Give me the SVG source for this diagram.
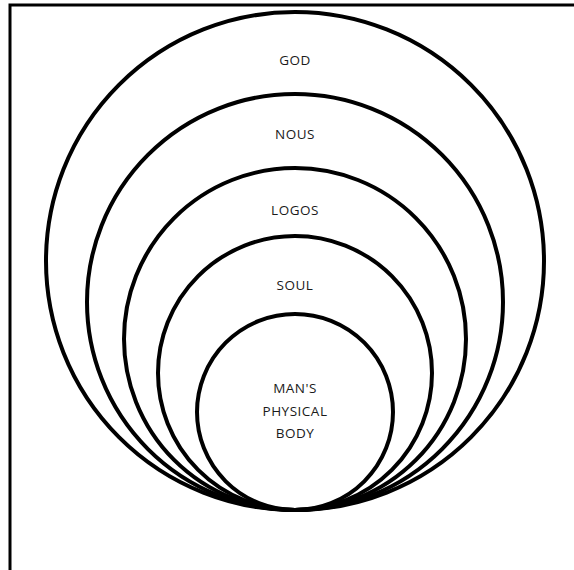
<svg xmlns="http://www.w3.org/2000/svg" width="574" height="570" viewBox="0 0 574 570">
<style>
.ring{fill:none;stroke:#000;stroke-width:4}
.lbl{font-family:"Open Sans","Liberation Sans",sans-serif;font-size:13.5px;fill:#1a1a1a;text-anchor:middle;letter-spacing:0.5px}
.frame{stroke:#000;stroke-width:3;fill:none}
</style>
<rect width="574" height="570" fill="#fff"/>
<path class="frame" d="M10,570 V5 H574"/>
<g id="god"><circle class="ring" cx="295" cy="261" r="249"/><text class="lbl" x="295" y="65">GOD</text></g>
<g id="nous"><circle class="ring" cx="295" cy="302" r="208"/><text class="lbl" x="295" y="139">NOUS</text></g>
<g id="logos"><circle class="ring" cx="295" cy="339" r="171"/><text class="lbl" x="295" y="215">LOGOS</text></g>
<g id="soul"><circle class="ring" cx="295" cy="373" r="137"/><text class="lbl" x="295" y="290">SOUL</text></g>
<g id="body"><circle class="ring" cx="295" cy="412" r="98"/><text class="lbl" x="295" y="393">MAN'S</text><text class="lbl" x="295" y="416">PHYSICAL</text><text class="lbl" x="295" y="438">BODY</text></g>
<g id="connectors"/>
</svg>
